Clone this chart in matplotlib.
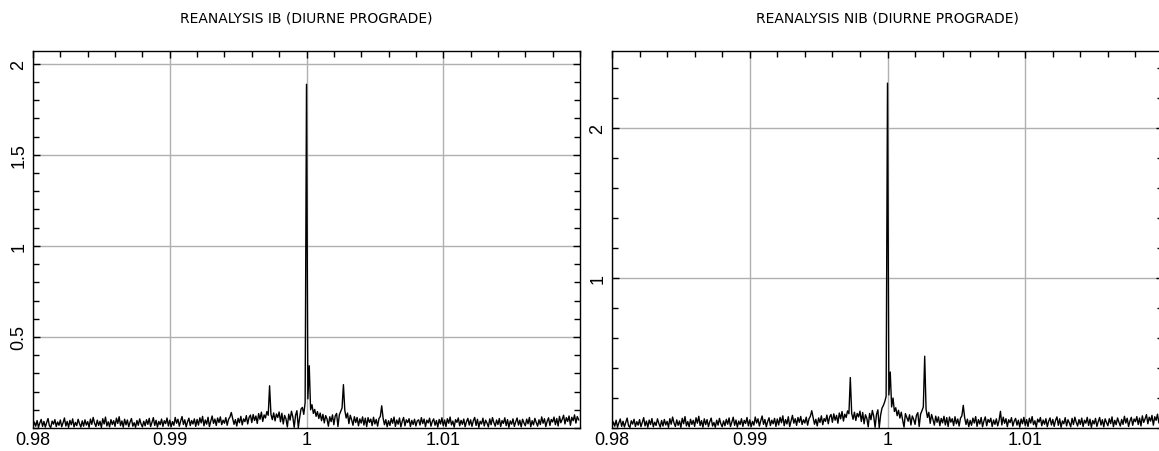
import numpy as np
import matplotlib
matplotlib.use('Agg')
import matplotlib.pyplot as plt
from matplotlib.ticker import MultipleLocator

# frequency axis (cycles per sidereal day), step 1e-4
freq = np.round(0.98 + 0.0001 * np.arange(400), 4)

# amplitude spectrum, inverse barometer (IB)
amp_ib = [
    0.006, 0.032, 0.010, 0.041, 0.004, 0.028, 0.047, 0.009, 0.036, 0.005, 0.030, 0.052, 0.012, 0.003, 0.038, 0.021, 0.046, 0.008, 0.033, 0.015,
    0.044, 0.007, 0.029, 0.055, 0.011, 0.036, 0.004, 0.042, 0.018, 0.050, 0.006, 0.031, 0.013, 0.048, 0.024, 0.005, 0.039, 0.010, 0.045, 0.016,
    0.035, 0.004, 0.049, 0.020, 0.058, 0.027, 0.008, 0.043, 0.014, 0.037, 0.003, 0.051, 0.022, 0.060, 0.011, 0.034, 0.006, 0.046, 0.019, 0.040,
    0.009, 0.054, 0.025, 0.062, 0.013, 0.039, 0.005, 0.048, 0.017, 0.044, 0.007, 0.033, 0.052, 0.010, 0.029, 0.004, 0.041, 0.015, 0.050, 0.023,
    0.006, 0.037, 0.012, 0.046, 0.020, 0.053, 0.008, 0.031, 0.057, 0.014, 0.042, 0.005, 0.036, 0.018, 0.049, 0.009, 0.040, 0.024, 0.055, 0.011,
    0.043, 0.007, 0.035, 0.015, 0.058, 0.026, 0.048, 0.010, 0.039, 0.063, 0.019, 0.045, 0.006, 0.034, 0.054, 0.013, 0.041, 0.022, 0.050, 0.009,
    0.047, 0.016, 0.056, 0.028, 0.064, 0.012, 0.044, 0.021, 0.059, 0.008, 0.038, 0.066, 0.025, 0.049, 0.014, 0.055, 0.030, 0.061, 0.018, 0.043,
    0.026, 0.057, 0.015, 0.048, 0.060, 0.085, 0.052, 0.020, 0.046, 0.011, 0.053, 0.029, 0.064, 0.017, 0.050, 0.035, 0.068, 0.022, 0.058, 0.071,
    0.030, 0.074, 0.041, 0.066, 0.025, 0.079, 0.048, 0.087, 0.036, 0.072, 0.055, 0.090, 0.070, 0.232, 0.075, 0.046, 0.083, 0.039, 0.077, 0.058,
    0.088, 0.034, 0.081, 0.022, 0.069, 0.050, 0.006, 0.076, 0.043, 0.092, 0.061, 0.004, 0.070, 0.095, 0.002, 0.058, 0.104, 0.113, 0.075, 0.140,
    1.887, 0.160, 0.342, 0.100, 0.128, 0.080, 0.102, 0.064, 0.090, 0.052, 0.082, 0.040, 0.075, 0.028, 0.068, 0.050, 0.010, 0.062, 0.035, 0.072,
    0.018, 0.066, 0.080, 0.008, 0.072, 0.091, 0.110, 0.238, 0.098, 0.055, 0.082, 0.024, 0.070, 0.045, 0.015, 0.062, 0.030, 0.058, 0.012, 0.050,
    0.027, 0.061, 0.016, 0.054, 0.008, 0.057, 0.031, 0.049, 0.013, 0.059, 0.022, 0.047, 0.010, 0.052, 0.064, 0.122, 0.055, 0.018, 0.046, 0.007,
    0.040, 0.014, 0.052, 0.026, 0.060, 0.009, 0.044, 0.021, 0.055, 0.006, 0.037, 0.058, 0.012, 0.045, 0.030, 0.051, 0.008, 0.042, 0.019, 0.048,
    0.011, 0.039, 0.045, 0.016, 0.057, 0.024, 0.049, 0.007, 0.043, 0.028, 0.054, 0.010, 0.036, 0.050, 0.015, 0.041, 0.005, 0.047, 0.022, 0.056,
    0.013, 0.044, 0.008, 0.051, 0.026, 0.060, 0.017, 0.038, 0.005, 0.046, 0.031, 0.055, 0.012, 0.042, 0.020, 0.049, 0.007, 0.035, 0.053, 0.016,
    0.045, 0.009, 0.040, 0.058, 0.014, 0.048, 0.004, 0.037, 0.022, 0.054, 0.011, 0.043, 0.027, 0.006, 0.050, 0.018, 0.057, 0.030, 0.010, 0.044,
    0.019, 0.052, 0.008, 0.041, 0.025, 0.056, 0.013, 0.046, 0.004, 0.039, 0.021, 0.050, 0.009, 0.034, 0.055, 0.016, 0.043, 0.006, 0.048, 0.028,
    0.012, 0.049, 0.023, 0.058, 0.007, 0.040, 0.017, 0.053, 0.030, 0.010, 0.045, 0.019, 0.061, 0.026, 0.051, 0.008, 0.037, 0.056, 0.014, 0.047,
    0.033, 0.060, 0.018, 0.052, 0.011, 0.064, 0.029, 0.048, 0.070, 0.022, 0.057, 0.036, 0.066, 0.015, 0.059, 0.040, 0.072, 0.027, 0.063, 0.045,
]

# amplitude spectrum, non inverse barometer (NIB)
amp_nib = [
    0.008, 0.040, 0.012, 0.052, 0.006, 0.035, 0.060, 0.011, 0.045, 0.007, 0.038, 0.066, 0.015, 0.004, 0.048, 0.026, 0.058, 0.010, 0.042, 0.019,
    0.056, 0.009, 0.037, 0.069, 0.014, 0.046, 0.005, 0.053, 0.023, 0.063, 0.008, 0.039, 0.017, 0.061, 0.030, 0.006, 0.050, 0.013, 0.057, 0.020,
    0.044, 0.005, 0.062, 0.025, 0.073, 0.034, 0.010, 0.054, 0.018, 0.047, 0.004, 0.065, 0.028, 0.076, 0.014, 0.043, 0.008, 0.058, 0.024, 0.051,
    0.011, 0.068, 0.032, 0.078, 0.016, 0.049, 0.006, 0.061, 0.022, 0.056, 0.009, 0.042, 0.066, 0.013, 0.037, 0.005, 0.052, 0.019, 0.064, 0.029,
    0.008, 0.047, 0.015, 0.058, 0.025, 0.067, 0.010, 0.039, 0.072, 0.018, 0.053, 0.006, 0.046, 0.023, 0.062, 0.011, 0.051, 0.030, 0.070, 0.014,
    0.054, 0.009, 0.044, 0.019, 0.073, 0.033, 0.061, 0.013, 0.049, 0.080, 0.024, 0.057, 0.008, 0.043, 0.068, 0.016, 0.052, 0.028, 0.064, 0.011,
    0.060, 0.020, 0.071, 0.035, 0.081, 0.015, 0.056, 0.027, 0.075, 0.010, 0.048, 0.084, 0.032, 0.062, 0.018, 0.070, 0.038, 0.077, 0.023, 0.055,
    0.033, 0.072, 0.019, 0.061, 0.078, 0.115, 0.070, 0.025, 0.058, 0.014, 0.067, 0.037, 0.081, 0.022, 0.063, 0.044, 0.086, 0.028, 0.074, 0.090,
    0.038, 0.094, 0.052, 0.084, 0.032, 0.100, 0.061, 0.110, 0.046, 0.092, 0.070, 0.114, 0.095, 0.336, 0.098, 0.058, 0.105, 0.050, 0.097, 0.074,
    0.112, 0.043, 0.103, 0.028, 0.088, 0.064, 0.008, 0.097, 0.055, 0.117, 0.078, 0.005, 0.090, 0.121, 0.003, 0.086, 0.132, 0.150, 0.175, 0.210,
    2.296, 0.220, 0.373, 0.140, 0.200, 0.110, 0.135, 0.082, 0.118, 0.066, 0.105, 0.052, 0.006, 0.096, 0.070, 0.045, 0.088, 0.020, 0.080, 0.058,
    0.024, 0.084, 0.102, 0.010, 0.092, 0.115, 0.140, 0.478, 0.125, 0.070, 0.104, 0.031, 0.090, 0.057, 0.019, 0.079, 0.038, 0.074, 0.015, 0.064,
    0.034, 0.078, 0.020, 0.069, 0.010, 0.073, 0.039, 0.062, 0.016, 0.075, 0.028, 0.060, 0.013, 0.066, 0.081, 0.151, 0.070, 0.023, 0.059, 0.009,
    0.051, 0.018, 0.066, 0.033, 0.076, 0.011, 0.056, 0.027, 0.070, 0.008, 0.047, 0.074, 0.015, 0.057, 0.038, 0.065, 0.010, 0.053, 0.024, 0.061,
    0.014, 0.050, 0.111, 0.020, 0.072, 0.031, 0.062, 0.009, 0.055, 0.036, 0.069, 0.013, 0.046, 0.064, 0.019, 0.052, 0.006, 0.060, 0.028, 0.071,
    0.017, 0.056, 0.010, 0.065, 0.033, 0.076, 0.022, 0.048, 0.006, 0.059, 0.039, 0.070, 0.015, 0.053, 0.025, 0.062, 0.009, 0.045, 0.067, 0.020,
    0.057, 0.011, 0.051, 0.074, 0.018, 0.061, 0.005, 0.047, 0.028, 0.069, 0.014, 0.055, 0.034, 0.008, 0.064, 0.023, 0.072, 0.038, 0.013, 0.056,
    0.024, 0.066, 0.010, 0.052, 0.032, 0.071, 0.017, 0.059, 0.005, 0.050, 0.027, 0.064, 0.011, 0.043, 0.070, 0.020, 0.055, 0.008, 0.061, 0.036,
    0.015, 0.062, 0.029, 0.074, 0.009, 0.051, 0.022, 0.067, 0.038, 0.013, 0.057, 0.024, 0.078, 0.033, 0.065, 0.010, 0.047, 0.071, 0.018, 0.060,
    0.042, 0.076, 0.023, 0.066, 0.014, 0.081, 0.037, 0.061, 0.089, 0.028, 0.072, 0.046, 0.084, 0.019, 0.075, 0.051, 0.092, 0.034, 0.080, 0.057,
]

titles = ['REANALYSIS IB (DIURNE PROGRADE)', 'REANALYSIS NIB (DIURNE PROGRADE)']
x_ticks = [0.98, 0.99, 1.00, 1.01]
x_labels = ['0.98', '0.99', '1', '1.01']
y_ticks_ib = [0.5, 1.0, 1.5, 2.0]
y_labels_ib = ['0.5', '1', '1.5', '2']
y_ticks_nib = [1.0, 2.0]
y_labels_nib = ['1', '2']

W, H = 1159, 452
fig = plt.figure(figsize=(W / 100, H / 100), dpi=100)

ax1 = fig.add_axes([33 / W, 1 - 429 / H, 547 / W, 377 / H])
ax2 = fig.add_axes([612 / W, 1 - 429 / H, 551 / W, 377 / H])

setup = [
    (ax1, amp_ib, titles[0], (0, 2.07), y_ticks_ib, y_labels_ib, 0.1),
    (ax2, amp_nib, titles[1], (0, 2.51), y_ticks_nib, y_labels_nib, 0.2),
]

for ax, amp, title, ylim, yt, yl, yminor in setup:
    ax.plot(freq, amp, color='black', linewidth=1.0, zorder=3)
    ax.set_xlim(0.98, 1.02)
    ax.set_ylim(*ylim)
    ax.set_xticks(x_ticks)
    ax.set_xticklabels(x_labels, fontfamily='Liberation Sans', fontsize=13)
    ax.xaxis.set_minor_locator(MultipleLocator(0.002))
    ax.set_yticks(yt)
    ax.set_yticklabels(yl, fontfamily='Liberation Sans', fontsize=13,
                       rotation=90, va='center')
    ax.yaxis.set_minor_locator(MultipleLocator(yminor))
    ax.grid(True, which='major', color='#b0b0b0', linewidth=1.0, zorder=0)
    ax.tick_params(axis='x', which='both', direction='in', bottom=False,
                   top=True, labelbottom=True, pad=2)
    ax.tick_params(axis='y', which='both', direction='in', left=True,
                   right=True, pad=4)
    ax.tick_params(which='major', length=5, width=1)
    ax.tick_params(which='minor', length=4, width=1)
    for s in ax.spines.values():
        s.set_linewidth(1.0)
    ax.text(0.5, 1.09, title, transform=ax.transAxes, ha='center',
            va='center', fontsize=10, fontfamily='DejaVu Sans')

fig.savefig('out.png', dpi=100)
